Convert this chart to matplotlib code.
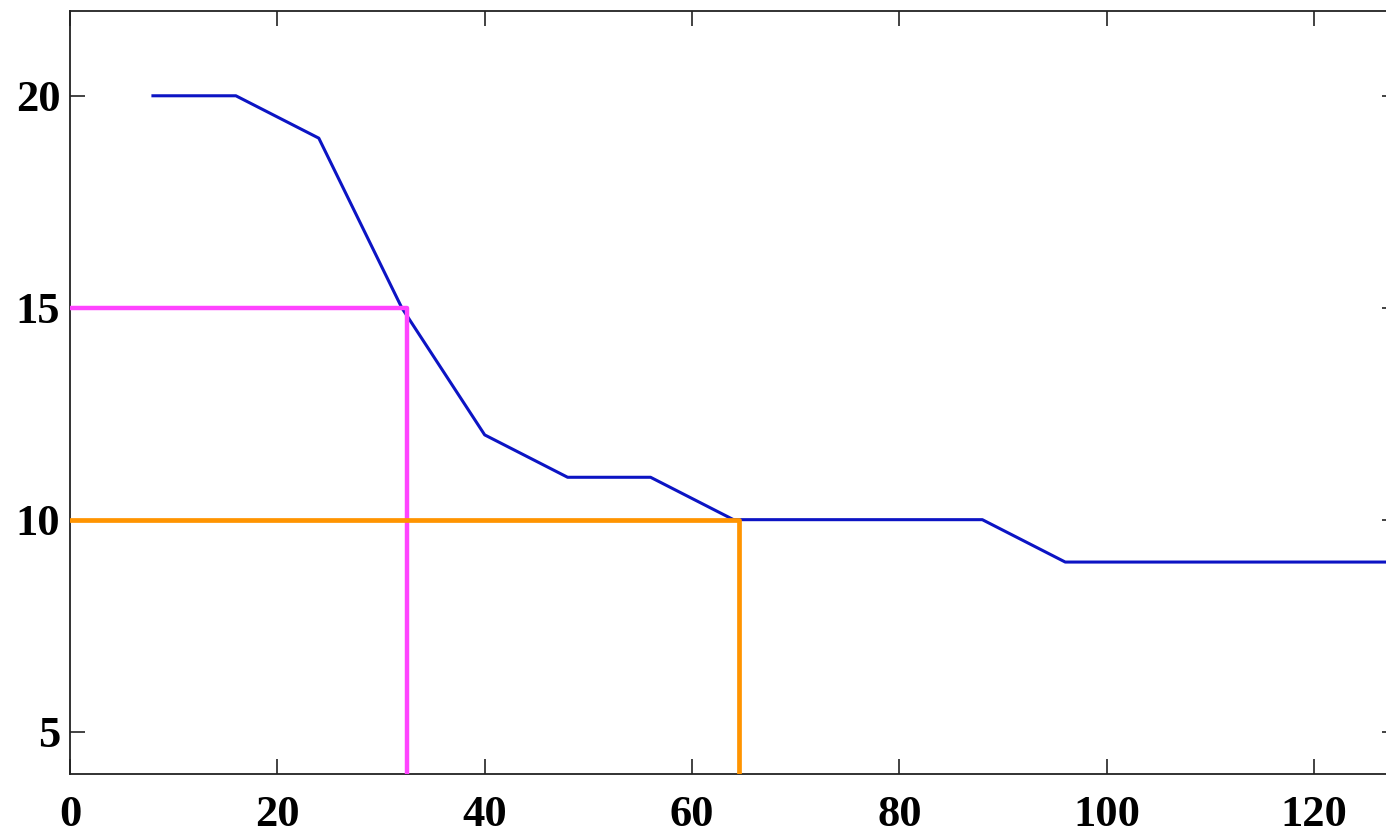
import matplotlib.pyplot as plt

# blue curve
x_vals = [8, 16, 24, 32, 40, 48, 56, 64, 72, 80, 88, 96, 104, 112, 120, 128]
y_vals = [20, 20, 19, 15, 12, 11, 11, 10, 10, 10, 10, 9, 9, 9, 9, 9]

# guide lines (x position of vertical drop, y level)
pink_x, pink_y = 32.5, 15
orange_x, orange_y = 64.5, 10

xticks = [0, 20, 40, 60, 80, 100, 120]
yticks = [5, 10, 15, 20]

plt.rcParams['font.family'] = 'Liberation Serif'
plt.rcParams['font.weight'] = 'bold'

fig = plt.figure(figsize=(13.86, 8.35), dpi=100)
ax = fig.add_axes([70 / 1386, 1 - 774 / 835, 1327 / 1386, 763 / 835])

ax.plot(x_vals, y_vals, color='#0c14c4', linewidth=2.2, zorder=2)
ax.plot([0, pink_x, pink_x], [pink_y, pink_y, 4], color='#ff44ff', linewidth=3.2, zorder=3)
ax.plot([0, orange_x, orange_x], [orange_y, orange_y, 4], color='#ff9400', linewidth=3.4, zorder=3)

ax.set_xlim(0, 128)
ax.set_ylim(4, 22)
ax.set_xticks(xticks)
ax.set_yticks(yticks)
ax.tick_params(direction='in', length=11, width=1.2, top=True, right=True,
               labelsize=32, pad=7, color='#222222')
ax.tick_params(axis='x', pad=15)
for lab in ax.get_xticklabels() + ax.get_yticklabels():
    lab.set_fontweight('bold')
for sp in ax.spines.values():
    sp.set_linewidth(1.3)
    sp.set_color('#222222')

fig.savefig('out.png', dpi=100)
